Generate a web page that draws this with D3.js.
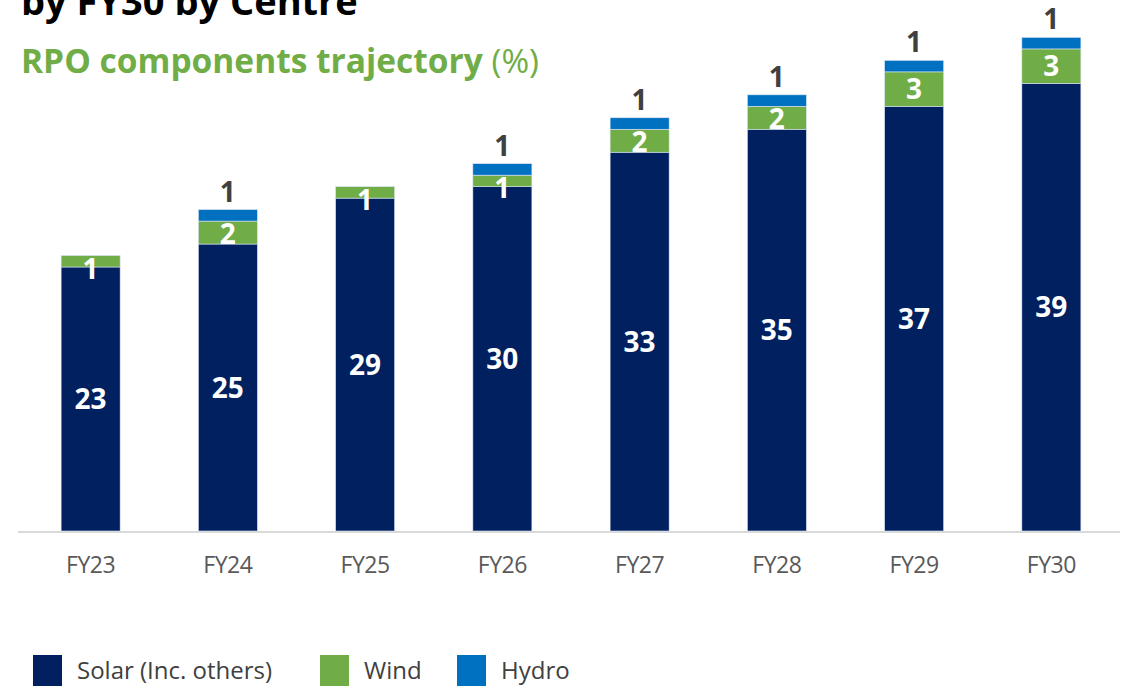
<!DOCTYPE html>
<html>
<head>
<meta charset="utf-8">
<script src="https://cdn.jsdelivr.net/npm/d3@7"></script>
<style>
  body { margin: 0; background: #fff; }
  svg { display: block; font-family: "Open Sans", "Noto Sans", sans-serif; }
</style>
</head>
<body>
<svg width="1122" height="686"></svg>
<script>
const width = 1122;
const height = 686;

const years = ["FY23", "FY24", "FY25", "FY26", "FY27", "FY28", "FY29", "FY30"];
const solar = [23, 25, 29, 30, 33, 35, 37, 39];
const wind = [1, 2, 1, 1, 2, 2, 3, 3];
const hydro = [0, 1, 0, 1, 1, 1, 1, 1];

const seriesNames = ["Solar (Inc. others)", "Wind", "Hydro"];
const seriesKeys = ["solar", "wind", "hydro"];
const colors = {solar: "#002060", wind: "#70ad47", hydro: "#0070c0"};

const rows = years.map((y, i) => ({year: y, solar: solar[i], wind: wind[i], hydro: hydro[i]}));

const svg = d3.select("svg");

// title (top half is cut off in the original)
svg.append("text")
    .attr("x", 21)
    .attr("y", 15)
    .attr("font-size", "38px")
    .attr("font-weight", "bold")
    .attr("fill", "#000")
    .text("by FY30 by Centre");

const sub = svg.append("text")
    .attr("x", 21)
    .attr("y", 73)
    .attr("font-size", "33.5px")
    .attr("fill", "#70ad47");
sub.append("tspan").attr("font-weight", "bold").text("RPO components trajectory ");
sub.append("tspan").text("(%)");

const x = d3.scaleBand()
    .domain(years)
    .range([22, 1120])
    .paddingInner(0.57)
    .paddingOuter(0.285);

const y = d3.scaleLinear()
    .domain([0, 46])
    .range([531, 3]);

const stacked = d3.stack().keys(seriesKeys)(rows);

// baseline
svg.append("line")
    .attr("x1", 18)
    .attr("x2", 1120)
    .attr("y1", y(0) + 1)
    .attr("y2", y(0) + 1)
    .attr("stroke", "#d9d9d9")
    .attr("stroke-width", 2);

const layers = svg.selectAll("g.layer")
    .data(stacked)
    .join("g")
    .attr("class", "layer")
    .attr("fill", d => colors[d.key]);

layers.selectAll("rect")
    .data(d => d.filter(p => p[1] > p[0]))
    .join("rect")
    .attr("x", d => x(d.data.year))
    .attr("y", d => y(d[1]))
    .attr("width", x.bandwidth())
    .attr("height", d => y(d[0]) - y(d[1]))
    .attr("stroke", "#dae3f3")
    .attr("stroke-width", 0.6);

// solar & wind labels inside (kept below the segment top when the segment is thin)
stacked.slice(0, 2).forEach(layer => {
    svg.selectAll(null)
        .data(layer.filter(p => p[1] > p[0]))
        .join("text")
        .attr("x", d => x(d.data.year) + x.bandwidth() / 2)
        .attr("y", d => Math.max((y(d[0]) + y(d[1])) / 2, y(d[1]) + 13))
        .attr("dy", "0.36em")
        .attr("text-anchor", "middle")
        .attr("font-size", "28px")
        .attr("font-weight", "bold")
        .attr("fill", "#fff")
        .text(d => d[1] - d[0]);
});

// hydro labels above bar
const hydroLayer = stacked[2];
svg.selectAll(null)
    .data(hydroLayer.filter(p => p[1] > p[0]))
    .join("text")
    .attr("x", d => x(d.data.year) + x.bandwidth() / 2)
    .attr("y", d => y(d[1]) - 8)
    .attr("text-anchor", "middle")
    .attr("font-size", "28px")
    .attr("font-weight", "bold")
    .attr("fill", "#404040")
    .text(d => d[1] - d[0]);

// x axis labels
svg.append("g")
    .attr("transform", `translate(0,${y(0)})`)
    .call(d3.axisBottom(x).tickSize(0).tickPadding(26))
    .call(g => g.select(".domain").remove())
    .selectAll("text")
    .attr("font-family", "\"Open Sans\", sans-serif")
    .attr("font-size", "23px")
    .attr("letter-spacing", "-0.5px")
    .attr("fill", "#595959");

// legend
const legendX = [33, 320, 457];
const legend = svg.selectAll("g.legend")
    .data(seriesKeys)
    .join("g")
    .attr("class", "legend")
    .attr("transform", (d, i) => `translate(${legendX[i]}, 655)`);

legend.append("rect")
    .attr("width", 29)
    .attr("height", 31)
    .attr("fill", d => colors[d]);

legend.append("text")
    .attr("x", 44)
    .attr("y", 24)
    .attr("font-size", "24px")
    .attr("fill", "#404040")
    .text((d, i) => seriesNames[i]);
</script>
</body>
</html>
